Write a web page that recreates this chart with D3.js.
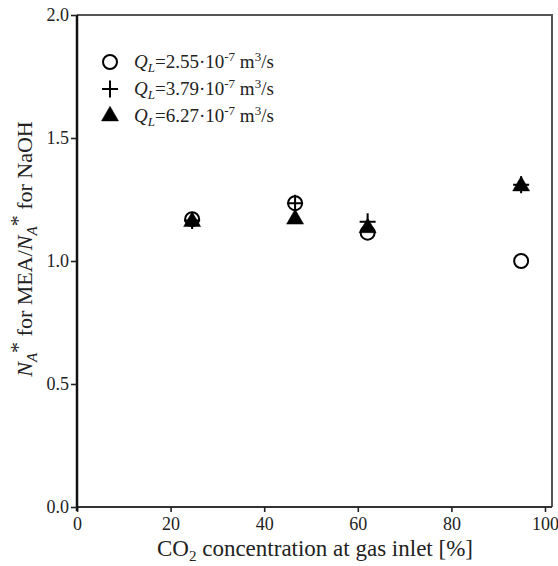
<!DOCTYPE html>
<html>
<head>
<meta charset="utf-8">
<script src="https://cdn.jsdelivr.net/npm/d3@7"></script>
<style>
  body { margin: 0; background: #fff; }
  svg text { font-family: "Liberation Serif", "Times New Roman", serif; fill: #222; }
</style>
</head>
<body>
<div id="graf"></div>
<script>
// Data
const co2Inlet = [24.6, 46.6, 62.1, 94.9];
const ratioQ255 = [1.17, 1.235, 1.115, 1.0];
const ratioQ379 = [1.165, 1.235, 1.16, 1.31];
const ratioQ627 = [1.16, 1.17, 1.135, 1.305];
const xTicks = [0, 20, 40, 60, 80, 100];
const yTicks = [0.0, 0.5, 1.0, 1.5, 2.0];
const seriesLabels = ["2.55", "3.79", "6.27"];

const svg = d3.select("#graf")
  .append("svg")
  .attr("width", 558)
  .attr("height", 566);

const plotLeft = 77, plotRight = 552, plotTop = 15, plotBottom = 507;

const xScale = d3.scaleLinear().domain([0, 100]).range([plotLeft, 545]);
const yScale = d3.scaleLinear().domain([0, 2]).range([plotBottom, plotTop]);

// frame (top and right)
svg.append("path")
  .attr("d", `M${plotLeft},${plotTop}H${plotRight}V${plotBottom}`)
  .attr("fill", "none")
  .attr("stroke", "#555")
  .attr("stroke-width", 2);

// axes
const xAxis = svg.append("g")
  .attr("transform", `translate(0,${plotBottom})`)
  .call(d3.axisBottom(xScale).tickValues(xTicks).tickFormat(d3.format("d")).tickSizeOuter(0).tickSize(5));
const yAxis = svg.append("g")
  .attr("transform", `translate(${plotLeft},0)`)
  .call(d3.axisLeft(yScale).tickValues(yTicks).tickFormat(d3.format(".1f")).tickSizeOuter(0).tickSize(6));

xAxis.select(".domain").attr("d", `M${plotLeft},0H${plotRight}`).attr("stroke", "#333").attr("stroke-width", 2);
yAxis.select(".domain").attr("d", `M0,${plotTop}V${plotBottom + 4}`).attr("stroke", "#111").attr("stroke-width", 2.5);
svg.selectAll(".tick line").attr("stroke", "#222").attr("stroke-width", 1.6);
svg.selectAll(".tick text").attr("font-size", 18).attr("fill", "#222");
xAxis.selectAll(".tick text").attr("dy", "0.85em");
yAxis.selectAll(".tick text").attr("x", -8);

// markers
const circlePath = d3.symbol().type(d3.symbolCircle).size(Math.PI * 7 * 7)();
const trianglePath = d3.symbol().type(d3.symbolTriangle).size(125)();
const plusPath = "M-8,0H8M0,-8.5V8.5";

function drawSeries(values, kind) {
  const g = svg.append("g");
  g.selectAll("path")
    .data(values)
    .join("path")
    .attr("transform", (d, i) => `translate(${xScale(co2Inlet[i])},${yScale(d)})`)
    .attr("d", kind === "circle" ? circlePath : kind === "plus" ? plusPath : trianglePath)
    .attr("fill", kind === "triangle" ? "#000" : (kind === "circle" ? "#fff" : "none"))
    .attr("stroke", "#000")
    .attr("stroke-width", kind === "triangle" ? 0.5 : 2);
}
drawSeries(ratioQ255, "circle");
drawSeries(ratioQ379, "plus");
drawSeries(ratioQ627, "triangle");

// legend
const legendKinds = ["circle", "plus", "triangle"];
const legend = svg.append("g");
seriesLabels.forEach((lab, i) => {
  const y = 62 + i * 27;
  const kind = legendKinds[i];
  legend.append("path")
    .attr("transform", `translate(110,${y})`)
    .attr("d", kind === "circle" ? circlePath : kind === "plus" ? plusPath : trianglePath)
    .attr("fill", kind === "triangle" ? "#000" : (kind === "circle" ? "#fff" : "none"))
    .attr("stroke", "#000")
    .attr("stroke-width", kind === "triangle" ? 0.5 : 2);
  const t = legend.append("text")
    .attr("x", 134)
    .attr("y", y + 6)
    .attr("font-size", 19);
  t.append("tspan").attr("font-style", "italic").text("Q");
  t.append("tspan").attr("font-style", "italic").attr("font-size", 13).attr("dy", 4).text("L");
  t.append("tspan").attr("dy", -4).text(`=${lab}·10`);
  t.append("tspan").attr("font-size", 13).attr("dy", -7).text("-7");
  t.append("tspan").attr("dy", 7).text(" m");
  t.append("tspan").attr("font-size", 13).attr("dy", -7).text("3");
  t.append("tspan").attr("dy", 7).text("/s");
});

// axis titles
const xt = svg.append("text")
  .attr("x", 315)
  .attr("y", 556)
  .attr("text-anchor", "middle")
  .attr("font-size", 23);
xt.append("tspan").text("CO");
xt.append("tspan").attr("font-size", 15).attr("dy", 5).text("2");
xt.append("tspan").attr("dy", -5).text(" concentration at gas inlet [%]");

const yt = svg.append("text")
  .attr("transform", "translate(32,249) rotate(-90)")
  .attr("text-anchor", "middle")
  .attr("font-size", 22);
yt.append("tspan").attr("font-style", "italic").text("N");
yt.append("tspan").attr("font-style", "italic").attr("font-size", 15).attr("dy", 5).text("A");
yt.append("tspan").attr("dy", -12).text("*");
yt.append("tspan").attr("dy", 7).text(" for MEA/");
yt.append("tspan").attr("font-style", "italic").text("N");
yt.append("tspan").attr("font-style", "italic").attr("font-size", 15).attr("dy", 5).text("A");
yt.append("tspan").attr("dy", -12).text("*");
yt.append("tspan").attr("dy", 7).text(" for NaOH");
</script>
</body>
</html>
